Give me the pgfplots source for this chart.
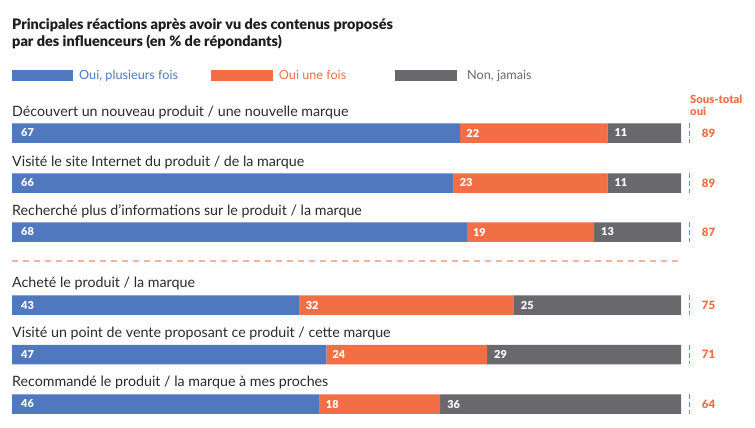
\documentclass[border=0pt]{standalone}
\usepackage{pgfplots}
\pgfplotsset{compat=1.18}
\usepackage{pgfplotstable}
\usepackage{fontspec}
\setmainfont{Lato}
\newfontfamily\heavy{Lato Black}
\definecolor{cblue}{HTML}{5078BE}
\definecolor{corange}{HTML}{F26F45}
\definecolor{cgray}{HTML}{69696D}
\definecolor{cdash}{HTML}{F9B39A}
\definecolor{ctitle}{HTML}{1D1D1B}
\definecolor{ctext}{HTML}{2A2A2A}

\pgfplotstableread{
y     blue orange gray sub
133   67   22     11   89
183   66   23     11   89
232   68   19     13   87
305   43   32     25   75
354.7 47   24     29   71
404   46   18     36   64
}\data

\begin{document}
\begin{tikzpicture}[x=1bp,y=1bp]
\path[use as bounding box] (0,0) rectangle (755,427);
\pgfplotsset{geom/.style={at={(12bp,0)}, anchor=south west, scale only axis,
  width=669bp, height=427bp, xmin=0, xmax=100, ymin=0, ymax=427,
  y dir=reverse, hide axis, clip=false}}
\begin{axis}[geom, xbar stacked, bar width=19.5bp]
\addplot[fill=cblue, draw=none] table[x=blue, y=y] \data;
\addplot[fill=corange, draw=none] table[x=orange, y=y] \data;
\addplot[fill=cgray, draw=none] table[x=gray, y=y] \data;
\end{axis}
\begin{axis}[geom]
\pgfplotsset{lbl/.style={draw=none, nodes near coords, point meta=explicit symbolic,
  every node near coord/.style={anchor=west, inner sep=0pt, text=white,
  font=\heavy\fontsize{11}{12}\selectfont}}}
\addplot[lbl, every node near coord/.append style={xshift=9bp}] table[x expr=0, y=y, meta=blue] \data;
\addplot[lbl, every node near coord/.append style={xshift=6bp}] table[x expr=\thisrow{blue}, y=y, meta=orange] \data;
\addplot[lbl, every node near coord/.append style={xshift=7bp}] table[x expr=\thisrow{blue}+\thisrow{orange}, y=y, meta=gray] \data;
\addplot[lbl, every node near coord/.append style={text=corange, font=\heavy\fontsize{11.5}{12}\selectfont}] table[x expr=103.1, y=y, meta=sub] \data;
\pgfplotsinvokeforeach{133,183,232,305,354.7,404}{
  \draw[corange, line width=1.2bp, dash pattern=on 5bp off 3bp] (axis cs:101.3,#1-9.75) -- (axis cs:101.3,#1+9.75);
}
\draw[cdash, line width=2bp, dash pattern=on 6bp off 5bp] (axis cs:0,260.7) -- (axis cs:100,260.7);
\end{axis}
% title
\node[anchor=base west, inner sep=0pt, text=ctitle, font=\heavy\fontsize{14.5}{18}\selectfont] at (12,{427-29.3}) {Principales réactions après avoir vu des contenus proposés};
\node[anchor=base west, inner sep=0pt, text=ctitle, font=\heavy\fontsize{14.5}{18}\selectfont] at (12,{427-46.7}) {par des influenceurs (en \% de répondants)};
% legend
\fill[cblue] (12.3,{427-80.7}) rectangle (73.3,{427-70});
\node[anchor=base west, inner sep=0pt, text=cblue, font=\fontsize{12.7}{14}\selectfont] at (79,{427-79.3}) {Oui, plusieurs fois};
\fill[corange] (211,{427-80.7}) rectangle (273,{427-70});
\node[anchor=base west, inner sep=0pt, text=corange, font=\fontsize{12.7}{14}\selectfont] at (278.7,{427-79.3}) {Oui une fois};
\fill[cgray] (395,{427-80.7}) rectangle (457,{427-70});
\node[anchor=base west, inner sep=0pt, text=cgray, font=\fontsize{12.7}{14}\selectfont] at (467,{427-79.3}) {Non, jamais};
% sous-total
\node[anchor=base west, inner sep=0pt, text=corange, font=\heavy\fontsize{11.3}{10}\selectfont] at (690,{427-103.5}) {Sous-total};
\node[anchor=base west, inner sep=0pt, text=corange, font=\heavy\fontsize{11.3}{10}\selectfont] at (690,{427-115}) {oui};
% category labels
\begin{scope}[every node/.style={anchor=base west, inner sep=0pt, text=ctext, font=\fontsize{14.3}{16}\selectfont}]
\node at (12,{427-116}) {Découvert un nouveau produit / une nouvelle marque};
\node at (12,{427-166}) {Visité le site Internet du produit / de la marque};
\node at (12,{427-215}) {Recherché plus d’informations sur le produit / la marque};
\node at (12,{427-287.7}) {Acheté le produit / la marque};
\node at (12,{427-337}) {Visité un point de vente proposant ce produit / cette marque};
\node at (12,{427-386}) {Recommandé le produit / la marque à mes proches};
\end{scope}
\end{tikzpicture}
\end{document}
